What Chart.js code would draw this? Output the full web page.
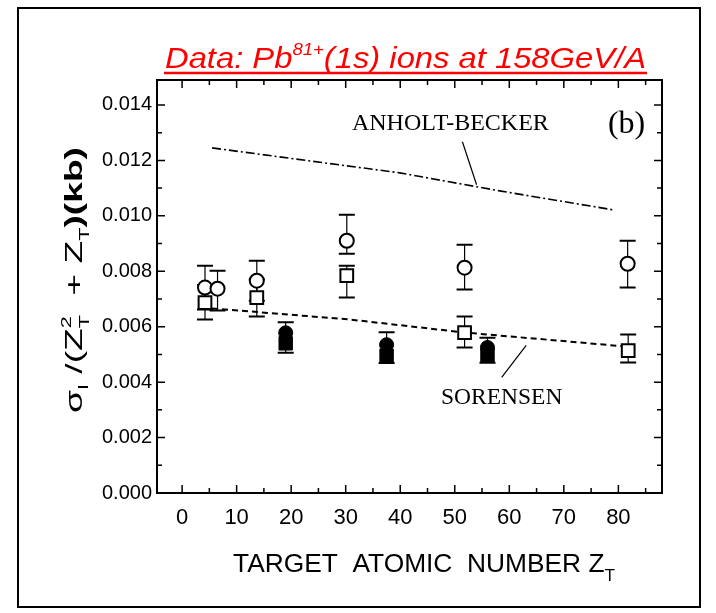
<!DOCTYPE html>
<html>
<head>
<meta charset="utf-8">
<script src="https://cdn.jsdelivr.net/npm/chart.js@4.4.0/dist/chart.umd.min.js"></script>
<style>
  body { margin: 0; background: #fff; }
  canvas { display: block; }
</style>
</head>
<body>
<canvas id="chart" width="716" height="613"></canvas>
<script>
// tick labels
const xTicks = [0, 10, 20, 30, 40, 50, 60, 70, 80]
const yTicks = [0, 0.002, 0.004, 0.006, 0.008, 0.010, 0.012, 0.014]

// open circles
const circZ = [4.2, 6.5, 13.7, 30.2, 51.8, 81.7]
const circV = [0.00741, 0.00737, 0.00766, 0.00910, 0.00813, 0.00827]
const circHi = [0.00820, 0.00802, 0.00838, 0.01004, 0.00896, 0.00910]
const circLo = [0.00662, 0.00658, 0.00694, 0.00863, 0.00734, 0.00741]

// open squares
const sqZ = [4.2, 13.7, 30.2, 51.8, 81.8]
const sqV = [0.00687, 0.00705, 0.00784, 0.00579, 0.00514]
const sqHi = [0.00750, 0.00770, 0.00820, 0.00637, 0.00572]
const sqLo = [0.00626, 0.00637, 0.00705, 0.00525, 0.00471]

// filled symbols
const fillZ = [19.0, 37.5, 56.0]
const fillCircV = [0.00578, 0.00535, 0.00525]
const fillSqV = [0.00540, 0.00495, 0.00497]
const fillHi = [0.00616, 0.00580, 0.00560]
const fillLo = [0.00506, 0.00469, 0.00470]

// theory curves
const anholtZ = [5.5, 39.9, 58.2, 78.9]
const anholtV = [0.01245, 0.01155, 0.01090, 0.01022]
const sorensenZ = [5.5, 30.7, 51.8, 81.7]
const sorensenV = [0.00666, 0.00626, 0.00579, 0.00528]

const pts = (xs, ys) => xs.map((x, i) => ({ x: x, y: ys[i] }))

// draw a run of text pieces, return width
function runsWidth(ctx, runs) {
  let w = 0
  runs.forEach(r => {
    ctx.font = r.font
    if (!r.stack) w += ctx.measureText(r.t).width
  })
  return w
}
function drawRuns(ctx, x, y, runs, fitWidth) {
  const w = runsWidth(ctx, runs)
  const k = fitWidth ? fitWidth / w : 1
  ctx.save()
  ctx.translate(x, y)
  ctx.scale(k, 1)
  let cx = 0
  runs.forEach(r => {
    ctx.font = r.font
    ctx.fillText(r.t, cx, r.dy || 0)
    if (!r.stack) cx += ctx.measureText(r.t).width
  })
  ctx.restore()
  return w * k
}

const paper = {
  id: "paper",
  beforeDatasetsDraw(chart) {
    const c = chart.ctx
    const xs = chart.scales.x
    const ys = chart.scales.y
    const bars = [
      [circZ, circLo, circHi],
      [sqZ, sqLo, sqHi],
      [fillZ, fillLo, fillHi],
    ]
    c.save()
    c.strokeStyle = "#000"
    bars.forEach(([zs, lo, hi]) => {
      zs.forEach((z, i) => {
        const px = xs.getPixelForValue(z)
        const y1 = ys.getPixelForValue(lo[i])
        const y2 = ys.getPixelForValue(hi[i])
        c.lineWidth = 1.2
        c.beginPath()
        c.moveTo(px, y1)
        c.lineTo(px, y2)
        c.stroke()
        c.lineWidth = 2
        c.beginPath()
        c.moveTo(px - 8, y1)
        c.lineTo(px + 8, y1)
        c.moveTo(px - 8, y2)
        c.lineTo(px + 8, y2)
        c.stroke()
      })
    })
    c.restore()
  },
  afterDraw(chart) {
    const c = chart.ctx
    const a = chart.chartArea
    const xs = chart.scales.x
    const ys = chart.scales.y
    c.save()
    c.strokeStyle = "#000"
    c.fillStyle = "#000"

    // outer page frame
    c.lineWidth = 2
    c.strokeRect(18, 8, 682, 599)

    // plot frame
    c.lineWidth = 2
    c.strokeRect(a.left, a.top, a.right - a.left, a.bottom - a.top)

    // inward ticks
    c.lineWidth = 1.5
    c.beginPath()
    for (let v = 0; v <= 85; v += 5) {
      const px = xs.getPixelForValue(v)
      const len = v % 10 === 0 ? 8 : 5
      c.moveTo(px, a.bottom)
      c.lineTo(px, a.bottom - len)
      c.moveTo(px, a.top)
      c.lineTo(px, a.top + len)
    }
    for (let i = 0; i <= 14; i++) {
      const py = ys.getPixelForValue(i * 0.001)
      const len = i % 2 === 0 ? 8 : 5
      c.moveTo(a.left, py)
      c.lineTo(a.left + len, py)
      c.moveTo(a.right, py)
      c.lineTo(a.right - len, py)
    }
    c.stroke()

    // title
    c.save()
    c.fillStyle = "#ff0000"
    c.strokeStyle = "#ff0000"
    c.textBaseline = "alphabetic"
    const tf = "italic 30px 'Liberation Sans', Arial, sans-serif"
    const sf = "italic 17px 'Liberation Sans', Arial, sans-serif"
    const tw = drawRuns(c, 165, 68, [
      { t: "Data: Pb", font: tf },
      { t: "81+", font: sf, dy: -13 },
      { t: "(1s) ions at 158GeV/A", font: tf },
    ], 481)
    c.lineWidth = 2.5
    c.beginPath()
    c.moveTo(164, 73)
    c.lineTo(165 + tw + 1, 73)
    c.stroke()
    c.restore()

    // x axis title
    const xf = "26px 'Liberation Sans', Arial, sans-serif"
    drawRuns(c, 233, 572, [
      { t: "TARGET  ATOMIC  NUMBER Z", font: xf },
      { t: "T", font: "17px 'Liberation Sans', Arial, sans-serif", dy: 9 },
    ], 382)

    // y axis title (rotated)
    c.save()
    c.translate(82, 413)
    c.rotate(-Math.PI / 2)
    const yf = "24px 'Liberation Sans', Arial, sans-serif"
    const ysub = "14px 'Liberation Sans', Arial, sans-serif"
    drawRuns(c, 0, 0, [
      { t: "\u03c3", font: yf },
      { t: "I", font: ysub, dy: 6 },
      { t: " /(Z", font: yf },
      { t: "T", font: ysub, dy: 7, stack: true },
      { t: "2", font: ysub, dy: -11 },
      { t: "  + Z", font: yf },
      { t: "T", font: ysub, dy: 7 },
      { t: ")(kb)", font: "bold 24px 'Liberation Sans', Arial, sans-serif" },
    ], 266)
    c.restore()

    // annotations
    c.font = "24px 'Liberation Serif', 'Times New Roman', serif"
    c.textAlign = "center"
    c.textBaseline = "middle"
    c.fillText("ANHOLT-BECKER", xs.getPixelForValue(49.2), ys.getPixelForValue(0.01331))
    c.font = "23.5px 'Liberation Serif', 'Times New Roman', serif"
    c.fillText("SORENSEN", xs.getPixelForValue(58.6), ys.getPixelForValue(0.00345))
    c.font = "32px 'Liberation Serif', 'Times New Roman', serif"
    c.fillText("(b)", xs.getPixelForValue(81.5), ys.getPixelForValue(0.01328))

    c.lineWidth = 1.2
    c.beginPath()
    c.moveTo(xs.getPixelForValue(51.4), ys.getPixelForValue(0.01267))
    c.lineTo(xs.getPixelForValue(54.0), ys.getPixelForValue(0.01112))
    c.moveTo(xs.getPixelForValue(58.6), ys.getPixelForValue(0.00417))
    c.lineTo(xs.getPixelForValue(63.1), ys.getPixelForValue(0.00533))
    c.stroke()
    c.restore()
  },
}

const ctx = document.getElementById("chart").getContext("2d")

new Chart(ctx, {
  type: "scatter",
  data: {
    datasets: [
      {
        label: "open circles",
        data: pts(circZ, circV),
        pointStyle: "circle",
        pointRadius: 7,
        backgroundColor: "#fff",
        borderColor: "#000",
        borderWidth: 2,
      },
      {
        label: "filled circles",
        data: pts(fillZ, fillCircV),
        pointStyle: "circle",
        pointRadius: 7,
        backgroundColor: "#000",
        borderColor: "#000",
        borderWidth: 1,
      },
      {
        label: "open squares",
        data: pts(sqZ, sqV),
        pointStyle: "rect",
        pointRadius: 9,
        backgroundColor: "#fff",
        borderColor: "#000",
        borderWidth: 2,
      },
      {
        label: "filled squares",
        data: pts(fillZ, fillSqV),
        pointStyle: "rect",
        pointRadius: 9.5,
        backgroundColor: "#000",
        borderColor: "#000",
        borderWidth: 1,
      },
      {
        label: "ANHOLT-BECKER",
        data: pts(anholtZ, anholtV),
        showLine: true,
        pointRadius: 0,
        borderColor: "#000",
        borderWidth: 1.6,
        borderDash: [9, 3, 2, 3],
        fill: false,
      },
      {
        label: "SORENSEN",
        data: pts(sorensenZ, sorensenV),
        showLine: true,
        pointRadius: 0,
        borderColor: "#000",
        borderWidth: 2,
        borderDash: [6, 4],
        fill: false,
      },
    ],
  },
  options: {
    responsive: false,
    animation: false,
    layout: { padding: { top: 80, right: 54, left: 0, bottom: 0 } },
    plugins: {
      legend: { display: false },
      tooltip: { enabled: false },
    },
    scales: {
      x: {
        type: "linear",
        min: -4.6,
        max: 88,
        grid: { display: false, drawTicks: false },
        border: { display: false },
        ticks: {
          color: "#000",
          padding: 12,
          font: { family: "'Liberation Sans', Arial, sans-serif", size: 22 },
        },
        afterBuildTicks: s => { s.ticks = xTicks.map(v => ({ value: v })) },
        afterFit: s => { s.height = 120 },
      },
      y: {
        type: "linear",
        min: 0,
        max: 0.0149,
        grid: { display: false, drawTicks: false },
        border: { display: false },
        ticks: {
          color: "#000",
          padding: 5,
          font: { family: "'Liberation Sans', Arial, sans-serif", size: 20 },
          callback: v => v.toFixed(3),
        },
        afterBuildTicks: s => { s.ticks = yTicks.map(v => ({ value: v })) },
        afterFit: s => { s.width = 157 },
      },
    },
  },
  plugins: [paper],
})
</script>
</body>
</html>
